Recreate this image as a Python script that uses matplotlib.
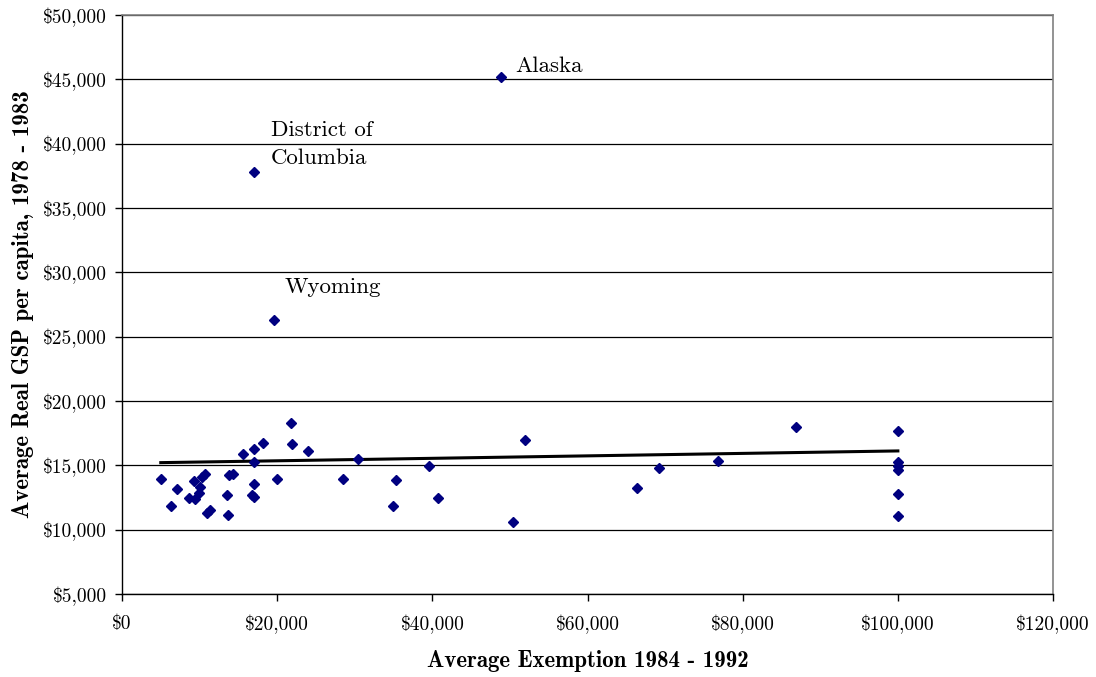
"""
Scatter of average homestead exemption against average real GSP per capita,
with a linear trend line and a few labelled outliers.
"""

import matplotlib.pyplot as plt
from matplotlib.ticker import FuncFormatter, MultipleLocator

# Average exemption 1984-1992 (dollars)
exemption = [5000, 7100, 6300, 9300, 10300, 10700, 10000, 9950, 8600, 9400,
             10900, 11300, 13550, 13600, 13800, 14250, 15600, 17000, 17000, 17000,
             16700, 17000, 18200, 20000, 21750, 21950, 23950,
             28500, 30450, 35300, 34970, 39600, 40700, 52000, 50400,
             66400, 69200, 76800, 86900,
             100000, 100000, 100000, 100000, 100000, 100000,
             48800, 17000, 19600]

# Average real GSP per capita 1978-1983 (dollars)
gsp = [13970, 13150, 11850, 13770, 14100, 14300, 13350, 12880, 12490, 12370,
       11280, 11540, 12700, 11150, 14230, 14330, 15910, 16260, 15290, 13530,
       12730, 12570, 16770, 13950, 18270, 16670, 16150,
       13970, 15500, 13890, 11870, 14960, 12490, 16950, 10580,
       13250, 14800, 15320, 17990,
       17700, 15245, 14980, 14650, 12760, 11070,
       45180, 37800, 26300]

# Linear trend line end points
trend_x = [5000, 100000]
trend_y = [15210, 16120]

# Labelled outliers: text, x, y
labels = ['Alaska', 'District of\nColumbia', 'Wyoming']
label_x = [50700, 19200, 21000]
label_y = [46040, 39950, 28870]

plt.rcParams['font.family'] = 'cmr10'
plt.rcParams['axes.formatter.use_mathtext'] = True

fig = plt.figure(figsize=(10.96, 6.77), dpi=100)
ax = fig.add_axes([0.1113, 0.1226, 0.8495, 0.8552])

ax.set_xlim(0, 120000)
ax.set_ylim(5000, 50000)
ax.xaxis.set_major_locator(MultipleLocator(20000))
ax.yaxis.set_major_locator(MultipleLocator(5000))

dollar = FuncFormatter(lambda v, pos: r'\${:,.0f}'.format(v))
ax.xaxis.set_major_formatter(dollar)
ax.yaxis.set_major_formatter(dollar)

ax.grid(axis='y', color='black', linewidth=0.9)
ax.set_axisbelow(True)

ax.plot(trend_x, trend_y, color='black', linewidth=2.2, zorder=2)
ax.plot(exemption, gsp, linestyle='none', marker='D', markersize=5,
        color='#000080', zorder=3)

for text, tx, ty in zip(labels, label_x, label_y):
    ax.text(tx, ty, text, fontsize=16.5, ha='left', va='center',
            linespacing=1.55)

for side in ['top', 'right']:
    ax.spines[side].set_color('#808080')
    ax.spines[side].set_linewidth(1.2)
for side in ['left', 'bottom']:
    ax.spines[side].set_color('black')
    ax.spines[side].set_linewidth(1.0)

ax.tick_params(axis='both', direction='out', length=5, width=1,
               labelsize=14, pad=6)
ax.tick_params(axis='x', pad=10)

ax.set_xlabel('Average Exemption 1984 - 1992', fontsize=16.5,
              fontfamily='cmb10', labelpad=11)
ax.set_ylabel('Average Real GSP per capita, 1978 - 1983', fontsize=16.5,
              fontfamily='cmb10', labelpad=6)

fig.savefig('out.png', dpi=100)
